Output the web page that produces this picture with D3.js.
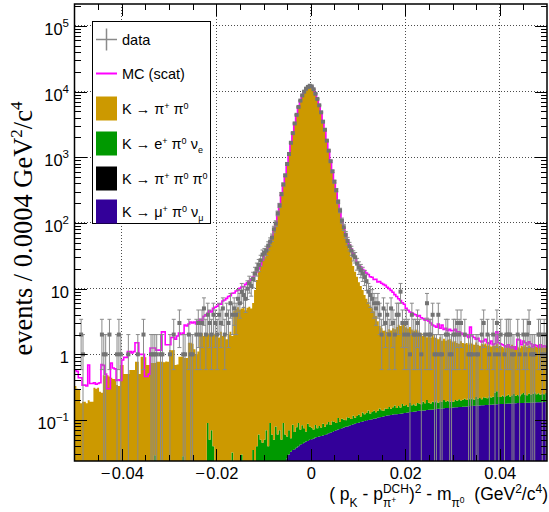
<!DOCTYPE html>
<html>
<head>
<meta charset="utf-8">
<script src="https://cdn.jsdelivr.net/npm/d3@7.9.0/dist/d3.min.js"></script>
<style>
  html, body { margin: 0; padding: 0; background: #fff; }
  svg { display: block; }
  text { font-family: "Liberation Sans", Arial, Helvetica, sans-serif; white-space: pre; }
</style>
</head>
<body>
<svg id="chart" width="549" height="512"></svg>
<script>
// ========= histogram definition (250 bins of 0.0004 GeV^2/c^4) =========
const xMin = -0.05, xMax = 0.05, nBins = 250;
const binW = (xMax - xMin) / nBins;

// ========= data, 25 bins per row =========
// K -> pi+ pi0 (orange, top of stack)
const pipi0 = [
  0.33,0.30,0.29,0.18,0.19,0.19,0.18,0.20,0.19,0.19,0.31,0.30,0.31,0.27,0.26,0.48,0.47,0.48,0.46,0.44,0.42,0.42,0.34,0.33,0.69,
  0.69,0.50,0.50,0.50,0.58,0.58,0.58,0.77,0.77,0.50,0.92,0.92,0.90,0.69,0.69,0.74,0.74,0.71,0.77,0.77,0.77,0.77,0.76,0.78,0.77,
  1.16,1.15,1.16,0.69,0.70,0.92,0.92,0.90,0.88,0.88,1.5,1.5,1.45,1.2,1.0,1.1,2.0,2.1,1.9,2.0,2.0,1.95,1.85,2.05,2.0,
  2.0,1.8,2.2,1.9,2.1,1.7,2.0,2.2,1.87,4.6,4.9,5.2,4.8,4.97,5.3,4.7,5.1,5.3,4.97,6.0,9.5,13.5,18,22,27,
  30,36,42,51,62,78,100,135,190,270,380,540,780,1130,1650,2350,3250,4450,5800,7300,8700,10000,11000,11800,12200,
  12000,10800,9300,7700,6200,4800,3500,2600,1800,1250,880,600,430,310,215,150,110,84,66,50,40,30,22,18,15,
  12.4,10.9,9.4,7.9,6.9,6.1,5.4,4.9,4.4,3.7,3.05,2.55,2.35,2.15,2.15,2.05,2.25,2.15,2.35,2.25,2.45,2.65,2.55,2.75,2.65,
  2.42,2.32,2.42,2.22,2.12,2.22,2.12,1.82,1.92,1.72,1.82,1.62,1.72,1.62,1.82,1.62,1.57,1.52,1.62,1.42,1.52,1.42,1.47,1.52,1.42,
  1.34,1.39,1.29,1.24,1.39,1.29,1.24,1.29,1.19,1.29,1.24,1.19,1.29,1.19,1.14,1.24,1.19,1.24,1.14,1.19,1.09,1.14,1.09,1.19,1.09,
  1.11,1.06,1.01,1.06,1.11,1.06,1.16,1.06,1.11,1.06,1.01,1.11,1.06,1.16,1.06,1.11,1.06,1.01,1.11,1.06,1.16,1.06,1.11,1.01,1.06
];
// K -> e+ pi0 nu_e (green)
const enu = [
  0,0,0,0,0,0,0,0,0,0,0,0,0,0,0,0,0,0,0,0,0,0,0,0,0,
  0,0,0,0,0,0,0,0,0,0,0,0,0,0,0,0,0,0.029,0,0,0,0,0,0,0,
  0,0,0,0,0,0,0,0.028,0,0,0,0,0,0,0,0,0,0,0,0,0.09,0.05,0.07,0.04,0,
  0,0,0,0,0,0,0,0,0.032,0,0,0,0,0.03,0,0,0,0,0,0.035,0,0.04,0.06,0.05,0.045,
  0.05,0.07,0.04,0.09,0.06,0.05,0.08,0.06,0.07,0.05,0.09,0.06,0.03,0.04,0.02,0.05,0.03,0.04,0.05,0.03,0.04,0.03,0.02,0.04,0.03,
  0.025,0.02,0.03,0.02,0.025,0.02,0.03,0.02,0.025,0.03,0.02,0.03,0.025,0.02,0.035,0.02,0.03,0.025,0.02,0.03,0.025,0.02,0.03,0.02,0.025,
  0.03,0.02,0.035,0.025,0.03,0.04,0.025,0.03,0.035,0.025,0.03,0.04,0.03,0.025,0.035,0.03,0.04,0.03,0.035,0.045,0.03,0.04,0.03,0.05,0.035,
  0.04,0.03,0.05,0.035,0.04,0.03,0.045,0.04,0.035,0.05,0.04,0.06,0.04,0.035,0.045,0.04,0.05,0.035,0.045,0.04,0.05,0.04,0.045,0.035,0.04,
  0.035,0.045,0.04,0.05,0.04,0.045,0.05,0.04,0.055,0.045,0.05,0.04,0.06,0.045,0.05,0.04,0.055,0.05,0.045,0.06,0.05,0.055,0.09,0.1,0.05,
  0.05,0.06,0.05,0.055,0.065,0.05,0.06,0.07,0.055,0.06,0.05,0.065,0.075,0.06,0.055,0.07,0.06,0.065,0.08,0.06,0.07,0.055,0.065,0.06,0.07
];
// K -> pi+ pi0 pi0 (black) - nothing visible above the axis floor
const pi3 = [
  0,0,0,0,0,0,0,0,0,0,0,0,0,0,0,0,0,0,0,0,0,0,0,0,0,
  0,0,0,0,0,0,0,0,0,0,0,0,0,0,0,0,0,0,0,0,0,0,0,0,0,
  0,0,0,0,0,0,0,0,0,0,0,0,0,0,0,0,0,0,0,0,0,0,0,0,0,
  0,0,0,0,0,0,0,0,0,0,0,0,0,0,0,0,0,0,0,0,0,0,0,0,0,
  0,0,0,0,0,0,0,0,0,0,0,0,0,0,0,0,0,0,0,0,0,0,0,0,0,
  0,0,0,0,0,0,0,0,0,0,0,0,0,0,0,0,0,0,0,0,0,0,0,0,0,
  0,0,0,0,0,0,0,0,0,0,0,0,0,0,0,0,0,0,0,0,0,0,0,0,0,
  0,0,0,0,0,0,0,0,0,0,0,0,0,0,0,0,0,0,0,0,0,0,0,0,0,
  0,0,0,0,0,0,0,0,0,0,0,0,0,0,0,0,0,0,0,0,0,0,0,0,0,
  0,0,0,0,0,0,0,0,0,0,0,0,0,0,0,0,0,0,0,0,0,0,0,0,0
];
// K -> mu+ pi0 nu_mu (blue, bottom of stack)
const munu = [
  0,0,0,0,0,0,0,0,0,0,0,0,0,0,0,0,0,0,0,0,0,0,0,0,0,
  0,0,0,0,0,0,0,0,0,0,0,0,0,0,0,0,0,0,0,0,0,0,0,0,0,
  0,0,0,0,0,0,0,0,0,0,0,0,0,0,0,0,0,0,0,0,0,0,0,0,0,
  0,0,0,0,0,0,0,0,0,0,0,0,0,0,0,0,0,0,0,0,0,0,0,0,0,
  0,0,0,0,0,0,0,0,0,0,0,0,0.026,0.03,0.033,0.035,0.036,0.038,0.040,0.042,0.043,0.045,0.047,0.048,0.050,
  0.051,0.052,0.054,0.055,0.056,0.057,0.058,0.059,0.061,0.063,0.064,0.066,0.068,0.070,0.072,0.073,0.075,0.077,0.079,0.080,0.082,0.084,0.086,0.088,0.090,
  0.091,0.093,0.095,0.097,0.098,0.100,0.101,0.103,0.105,0.106,0.108,0.110,0.111,0.113,0.115,0.117,0.118,0.119,0.121,0.122,0.123,0.124,0.125,0.126,0.128,
  0.129,0.130,0.132,0.133,0.134,0.135,0.137,0.138,0.139,0.140,0.140,0.142,0.143,0.144,0.145,0.146,0.147,0.148,0.149,0.150,0.151,0.152,0.152,0.153,0.154,
  0.155,0.156,0.157,0.158,0.158,0.159,0.160,0.161,0.162,0.163,0.164,0.165,0.165,0.166,0.167,0.168,0.168,0.169,0.170,0.171,0.171,0.172,0.173,0.174,0.175,
  0.175,0.176,0.176,0.177,0.178,0.178,0.179,0.180,0.180,0.181,0.181,0.182,0.182,0.183,0.183,0.184,0.184,0.185,0.185,0.186,0.186,0.187,0.187,0.188,0.188
];
// MC (scat), magenta line
const mcScat = [
  0.58,0.55,0.44,0.44,0.34,0.34,0.33,0.69,0.36,0.36,0.37,0.35,0.36,0.37,0.70,0.68,0.50,0.30,0.30,0.74,0.62,0.60,0.40,0.41,0.40,
  0.82,0.90,0.90,1.10,1.10,1.05,1.10,1.50,1.50,1.00,1.00,1.00,0.46,0.46,0.50,1.25,1.25,1.25,1.16,1.16,1.16,2.20,2.20,1.40,1.40,
  1.40,1.80,1.80,1.70,1.90,2.10,2.00,2.10,2.80,2.70,2.90,3.10,3.00,3.10,2.90,3.20,3.40,3.30,3.80,4.00,4.20,4.60,4.40,5.00,5.20,
  5.4,5.9,5.8,6.5,6.7,7.1,7.6,7.8,8.5,8.6,9.2,9.5,10.1,10.6,10.7,11.6,12.3,13.2,14.0,15.0,16.5,18.0,20.0,23.0,27.0,
  32,37,43,51,62,78,100,135,190,270,380,540,780,1130,1650,2350,3250,4450,5800,7300,8700,10000,11000,11800,12200,
  12000,10800,9300,7700,6200,4800,3500,2600,1800,1250,880,600,430,310,215,150,110,84,68,55,46,40,34,29,25,
  23,21.5,19.5,18.8,17.2,16.4,15.2,14.9,13.8,13.9,12.6,12.8,12.1,11.6,11.2,10.5,10.0,9.4,8.8,8.1,7.6,7.0,6.6,6.1,5.8,
  5.0,4.7,4.4,4.3,4.1,4.0,3.8,3.9,3.6,3.5,3.3,3.4,3.2,3.0,2.8,2.7,2.6,2.9,2.5,2.8,2.4,2.5,2.3,2.4,2.3,
  2.3,2.4,2.2,2.2,2.1,2.0,1.9,2.0,1.8,2.6,1.9,1.8,1.7,1.75,1.6,1.55,1.6,1.7,1.5,1.45,1.6,1.4,1.45,2.2,1.5,
  1.45,1.4,1.35,1.3,1.4,1.3,1.25,1.3,1.2,1.7,1.65,1.4,1.6,1.5,1.4,1.55,1.45,1.3,1.4,1.35,1.3,1.4,1.3,1.35,1.3
];
// data counts per bin
const dataCounts = [
  0,0,0,2,1,0,0,0,0,0,0,0,0,0,2,1,1,0,2,0,0,0,1,2,1,
  0,0,0,1,0,0,0,0,1,0,0,2,0,0,0,1,1,1,1,0,1,1,0,0,0,
  1,0,2,0,0,3,0,1,1,0,2,1,1,0,2,3,2,3,5,2,4,3,2,4,3,
  2,4,3,5,2,4,3,6,4,5,4,7,6,9,8,7,10,12,11,14,17,20,23,27,33,
  35,38,45,52,60,80,98,140,185,275,385,530,790,1120,1660,2330,3270,4420,5830,7280,8730,9960,11050,11760,12250,
  11980,10830,9260,7720,6180,4830,3480,2620,1790,1260,870,610,425,315,210,155,108,86,66,53,44,38,32,30,24,
  21,19,17,15,13,9,8,7,6,5,6,4,2,5,3,4,2,5,3,2,4,4,9,3,2,
  3,2,1,4,2,2,3,2,1,0,2,6,2,2,4,1,1,4,1,1,0,2,2,1,1,
  2,2,3,2,3,0,2,0,1,1,1,0,1,1,0,2,3,0,2,1,0,2,1,3,1,
  2,0,1,2,2,2,1,1,0,2,1,0,2,1,2,3,1,1,1,0,2,2,1,2,1
];

const components = [
  { key: "munu", values: munu, color: "#330099" },
  { key: "pi3", values: pi3, color: "#000000" },
  { key: "enu", values: enu, color: "#009900" },
  { key: "pipi0", values: pipi0, color: "#cc9900" },
];

// tick values
const xMajor = [-0.04, -0.02, 0, 0.02, 0.04];
const xMinor = [-0.045, -0.035, -0.03, -0.025, -0.015, -0.01, -0.005, 0.005, 0.01, 0.015, 0.025, 0.03, 0.035, 0.045];
const yDecades = [1e-1, 1, 10, 1e2, 1e3, 1e4, 1e5];
const yExp = [-1, 0, 1, 2, 3, 4, 5];

// ========= scales =========
const L = 74.5, R = 547, T = 4, B = 461;
const yFloor = 0.0238;
const x = d3.scaleLinear().domain([xMin, xMax]).range([L, R]);
const y = d3.scaleLog().domain([yFloor, 2.15e5]).range([B, T]).clamp(true);
const yv = (v) => y(Math.max(v, yFloor));

const svg = d3.select("#chart");
const edges = d3.range(nBins + 1).map((i) => xMin + i * binW);

svg.append("defs").append("clipPath").attr("id", "plotclip")
  .append("rect").attr("x", L).attr("y", T).attr("width", R - L).attr("height", B - T);

// ---- grid (dotted) ----
const grid = svg.append("g").attr("stroke", "#000").attr("stroke-dasharray", "1,2")
  .attr("shape-rendering", "crispEdges").attr("stroke-opacity", 0.7);
grid.selectAll("line.h").data(yDecades).join("line")
  .attr("x1", L).attr("x2", R).attr("y1", (d) => y(d)).attr("y2", (d) => y(d));
grid.selectAll("line.v").data(xMajor).join("line")
  .attr("class", "v")
  .attr("x1", (d) => x(d)).attr("x2", (d) => x(d)).attr("y1", T).attr("y2", B);

const plot = svg.append("g").attr("clip-path", "url(#plotclip)");

// ---- stacked histogram ----
const rows = d3.range(nBins).map((i) => {
  const r = {};
  components.forEach((c) => (r[c.key] = c.values[i]));
  return r;
});
const stacked = d3.stack().keys(components.map((c) => c.key))(rows);

const stepArea = d3.area().curve(d3.curveStepAfter)
  .x((d) => x(d.x)).y0((d) => yv(d.y0)).y1((d) => yv(d.y1));

stacked.forEach((layer, li) => {
  const pts = edges.map((e, i) => {
    const b = layer[Math.min(i, nBins - 1)];
    return { x: e, y0: b[0], y1: b[1] };
  });
  plot.append("path")
    .attr("d", stepArea(pts))
    .attr("fill", components[li].color);
});

// ---- MC (scat) line ----
const stepLine = d3.line().curve(d3.curveStepAfter).x((d) => x(d.x)).y((d) => yv(d.v));
plot.append("path")
  .attr("d", stepLine(edges.map((e, i) => ({ x: e, v: mcScat[Math.min(i, nBins - 1)] }))))
  .attr("fill", "none").attr("stroke", "#ff00ff").attr("stroke-width", 1.6);

// ---- data points with sqrt(N) errors ----
const pts = dataCounts
  .map((n, i) => ({ n, xc: xMin + (i + 0.5) * binW }))
  .filter((d) => d.n > 0);
const dg = plot.append("g");
pts.forEach((d) => {
  const e = Math.sqrt(d.n), px = x(d.xc);
  const yHi = yv(d.n + e), yLo = yv(d.n - e);
  dg.append("line").attr("x1", px).attr("x2", px).attr("y1", yHi).attr("y2", yLo)
    .attr("stroke", "#8a8a8a").attr("stroke-width", 1);
  dg.append("line").attr("x1", px - 2).attr("x2", px + 2).attr("y1", yHi).attr("y2", yHi)
    .attr("stroke", "#8a8a8a").attr("stroke-width", 1);
  if (d.n - e > yFloor) {
    dg.append("line").attr("x1", px - 2).attr("x2", px + 2).attr("y1", yLo).attr("y2", yLo)
      .attr("stroke", "#8a8a8a").attr("stroke-width", 1);
  }
});
dg.selectAll("rect").data(pts).join("rect")
  .attr("x", (d) => x(d.xc) - 2).attr("y", (d) => yv(d.n) - 2)
  .attr("width", 4).attr("height", 4).attr("fill", "#737373");

// ---- axes (ticks inside, ROOT style) ----
function tickAxis(axis, tx, ty) {
  const g = svg.append("g").attr("transform", `translate(${tx},${ty})`).call(axis);
  g.select(".domain").remove();
  g.selectAll(".tick line").attr("stroke", "#000").attr("shape-rendering", "crispEdges");
  return g;
}
const fmtX = (d) => (d === 0 ? "0" : d < 0 ? "\u2212\u200a" + d3.format(".2f")(-d) : d3.format(".2f")(d));
const xb = tickAxis(d3.axisBottom(x).tickValues(xMajor).tickSize(-12).tickPadding(6).tickFormat(fmtX), 0, B);
xb.selectAll("text").attr("font-size", 16.5).attr("font-family", null).attr("fill", "#000");
tickAxis(d3.axisBottom(x).tickValues(xMinor).tickSize(-6).tickFormat(""), 0, B);
tickAxis(d3.axisTop(x).tickValues(xMajor).tickSize(-12).tickFormat(""), 0, T);
tickAxis(d3.axisTop(x).tickValues(xMinor).tickSize(-6).tickFormat(""), 0, T);

const yMinor = [];
d3.range(-2, 6).forEach((p) => d3.range(2, 10).forEach((m) => yMinor.push(m * Math.pow(10, p))));
const yMinorIn = yMinor.filter((v) => v > yFloor && v < 2.15e5);
tickAxis(d3.axisLeft(y).tickValues(yDecades).tickSize(-12).tickFormat(""), L, 0);
tickAxis(d3.axisLeft(y).tickValues(yMinorIn).tickSize(-6).tickFormat(""), L, 0);
tickAxis(d3.axisRight(y).tickValues(yDecades).tickSize(-12).tickFormat(""), R, 0);
tickAxis(d3.axisRight(y).tickValues(yMinorIn).tickSize(-6).tickFormat(""), R, 0);

// y labels: 10^n
yDecades.forEach((v, i) => {
  const p = yExp[i];
  const t = svg.append("text").attr("x", 69).attr("y", y(v) + 9)
    .attr("text-anchor", "end").attr("font-size", 16.5);
  if (p === 0) t.text("1");
  else if (p === 1) t.text("10");
  else {
    t.append("tspan").text("10");
    t.append("tspan").attr("font-size", 11.5).attr("dy", -8).text(p < 0 ? "\u2212" + (-p) : String(p));
  }
});

// frame
svg.append("rect").attr("x", L).attr("y", T).attr("width", R - L).attr("height", B - T)
  .attr("fill", "none").attr("stroke", "#000").attr("stroke-width", 1.5);

// ---- rich text helper (sub/superscripts laid out piece by piece) ----
function layout(g, run, x0, y0) {
  let cx = x0;
  run.forEach((p) => {
    if (p.stack) {
      cx += d3.max(p.stack.map((r) => layout(g, r, cx, y0)));
    } else {
      const t = g.append("text").attr("x", cx).attr("y", y0 + (p.dy || 0))
        .attr("font-size", p.fs).text(p.t);
      cx += t.node().getComputedTextLength();
    }
  });
  return cx - x0;
}

// x title, right aligned
const xt = svg.append("g");
const M = 17.5, S = 12, SS = 8.5;
const w = layout(xt, [
  { t: "( p", fs: M }, { t: "K", fs: S, dy: 7 },
  { t: " - p", fs: M },
  { stack: [[{ t: "DCH", fs: S, dy: -6.5 }], [{ t: "\u03c0", fs: S, dy: 7 }, { t: "+", fs: SS, dy: 3 }]] },
  { t: ")", fs: M }, { t: "2", fs: S, dy: -7 },
  { t: " - m", fs: M }, { t: "\u03c0", fs: S, dy: 7 }, { t: "0", fs: SS, dy: 3 },
  { t: "  (GeV", fs: M }, { t: "2", fs: S, dy: -7 }, { t: "/c", fs: M }, { t: "4", fs: S, dy: -7 }, { t: ")", fs: M },
], 0, 499.5);
xt.attr("transform", `translate(${548 - w},0)`);

// y title
const ytl = svg.append("text")
  .attr("transform", "translate(31.5,228.5) rotate(-90)")
  .attr("text-anchor", "middle")
  .style("font-family", '"Liberation Serif", "Times New Roman", serif')
  .attr("font-size", 26.5);
ytl.append("tspan").text("events / 0.0004 GeV");
ytl.append("tspan").attr("font-size", 17).attr("dy", -10).text("2");
ytl.append("tspan").attr("dy", 10).text("/c");
ytl.append("tspan").attr("font-size", 17).attr("dy", -10).text("4");

// ---- legend ----
const lg = svg.append("g");
lg.append("rect").attr("x", 92.5).attr("y", 21.5).attr("width", 118).attr("height", 202)
  .attr("fill", "#fff").attr("stroke", "#000").attr("stroke-width", 1);

const legendRows = [
  { kind: "data", cy: 39.5, run: [{ t: "data", fs: 14.5 }] },
  { kind: "mc", cy: 73.5, run: [{ t: "MC (scat)", fs: 14.5 }] },
  { kind: "fill", color: "#cc9900", cy: 108.5,
    run: [{ t: "K \u2192 \u03c0", fs: 14.5 }, { t: "+", fs: 9, dy: -5 }, { t: " \u03c0", fs: 14.5 }, { t: "0", fs: 9, dy: -5 }] },
  { kind: "fill", color: "#009900", cy: 143.5,
    run: [{ t: "K \u2192 e", fs: 14.5 }, { t: "+", fs: 9, dy: -5 }, { t: " \u03c0", fs: 14.5 }, { t: "0", fs: 9, dy: -5 },
          { t: " \u03bd", fs: 14.5 }, { t: "e", fs: 9, dy: 4 }] },
  { kind: "fill", color: "#000000", cy: 178.5,
    run: [{ t: "K \u2192 \u03c0", fs: 14.5 }, { t: "+", fs: 9, dy: -5 }, { t: " \u03c0", fs: 14.5 }, { t: "0", fs: 9, dy: -5 },
          { t: " \u03c0", fs: 14.5 }, { t: "0", fs: 9, dy: -5 }] },
  { kind: "fill", color: "#330099", cy: 211.5,
    run: [{ t: "K \u2192 \u03bc", fs: 14.5 }, { t: "+", fs: 9, dy: -5 }, { t: " \u03c0", fs: 14.5 }, { t: "0", fs: 9, dy: -5 },
          { t: " \u03bd", fs: 14.5 }, { t: "\u03bc", fs: 9, dy: 4 }] },
];
legendRows.forEach((r) => {
  if (r.kind === "data") {
    lg.append("line").attr("x1", 96).attr("x2", 117).attr("y1", r.cy).attr("y2", r.cy)
      .attr("stroke", "#8a8a8a").attr("stroke-width", 1.5);
    lg.append("line").attr("x1", 106.5).attr("x2", 106.5).attr("y1", r.cy - 11).attr("y2", r.cy + 11)
      .attr("stroke", "#8a8a8a").attr("stroke-width", 1.5);
  } else if (r.kind === "mc") {
    lg.append("line").attr("x1", 96).attr("x2", 117).attr("y1", r.cy).attr("y2", r.cy)
      .attr("stroke", "#ff00ff").attr("stroke-width", 2);
  } else {
    lg.append("rect").attr("x", 96).attr("y", r.cy - 12).attr("width", 21).attr("height", 24)
      .attr("fill", r.color);
  }
  layout(lg, r.run, 122, r.cy + 5);
});
</script>
</body>
</html>
